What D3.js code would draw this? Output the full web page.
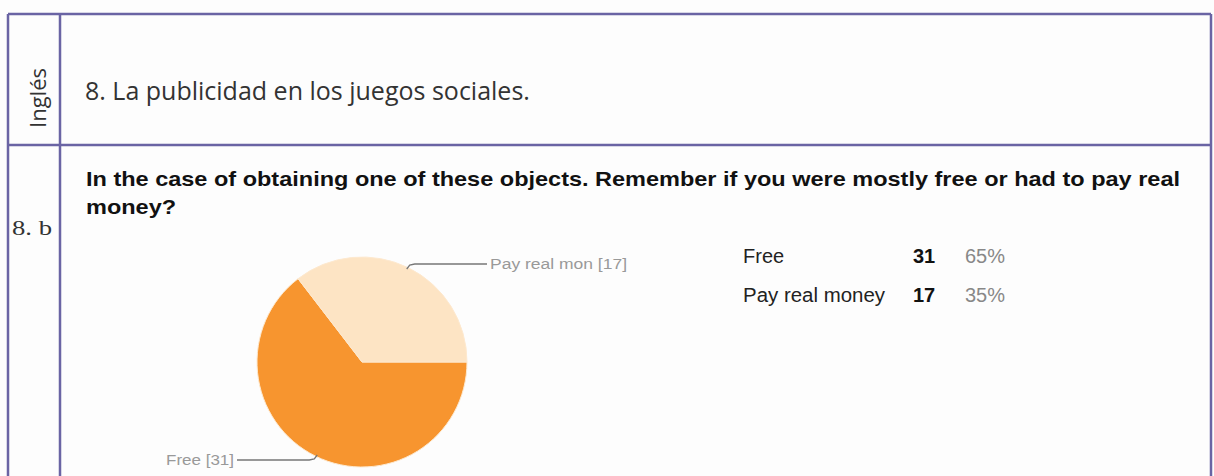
<!DOCTYPE html>
<html><head><meta charset="utf-8">
<script src="https://cdn.jsdelivr.net/npm/d3@7"></script>
<style>html,body{margin:0;padding:0;background:#fff;}svg{display:block;}</style>
</head><body>
<svg id="c" width="1214" height="476"></svg>
<script>
const categories = ["Free", "Pay real money"];
const values = [31, 17];
const percents = ["65%", "35%"];
const sliceLabels = ["Free [31]", "Pay real mon [17]"];
const colors = ["#f7952f", "#fde4c4"];
const sectionLabel = "Inglés";
const sectionTitle = "8. La publicidad en los juegos sociales.";
const itemLabel = "8. b";
const questionLines = ["In the case of obtaining one of these objects. Remember if you were mostly free or had to pay real", "money?"];

const svg = d3.select("#c");
const W = 1214, H = 476;
svg.append("rect").attr("width", W).attr("height", H).attr("fill", "#fdfdfd");

// table borders
const bc = "#6a64a4";
const g = svg.append("g").attr("stroke", bc).attr("stroke-width", 2.5).attr("fill", "none");
g.append("line").attr("x1", 8).attr("x2", 1211).attr("y1", 14).attr("y2", 14);
g.append("line").attr("x1", 8).attr("x2", 1211).attr("y1", 145).attr("y2", 145);
g.append("line").attr("x1", 8).attr("x2", 8).attr("y1", 14).attr("y2", H);
g.append("line").attr("x1", 60).attr("x2", 60).attr("y1", 14).attr("y2", H);
g.append("line").attr("x1", 1211).attr("x2", 1211).attr("y1", 14).attr("y2", H);

svg.append("text").attr("transform", "translate(46,98) rotate(-90)")
  .attr("text-anchor", "middle").attr("font-family", "Open Sans, sans-serif")
  .attr("font-size", 21).attr("fill", "#333").attr("textLength", 60).attr("lengthAdjust", "spacingAndGlyphs").text(sectionLabel);
svg.append("text").attr("x", 85).attr("y", 100).attr("font-family", "Open Sans, sans-serif")
  .attr("font-size", 25).attr("fill", "#333").text(sectionTitle);
svg.append("text").attr("x", 12).attr("y", 235).attr("font-family", "Liberation Serif, serif")
  .attr("font-size", 21).attr("fill", "#333").attr("textLength", 40).attr("lengthAdjust", "spacingAndGlyphs").text(itemLabel);

// question text, compressed to the reference width
const qts = questionLines.map((t, i) => svg.append("text").attr("x", 86).attr("y", 186 + i * 28)
    .attr("font-family", "Liberation Sans, Arial, sans-serif").attr("font-weight", "bold")
    .attr("font-size", 21).attr("fill", "#111").text(t));
const ratio = 1094 / qts[0].node().getComputedTextLength();
qts.forEach(t => t.attr("textLength", t.node().getComputedTextLength() * ratio).attr("lengthAdjust", "spacingAndGlyphs"));

// pie
const cx = 362, cy = 362, r = 105;
const pie = d3.pie().sort(null).startAngle(Math.PI / 2).endAngle(Math.PI / 2 + 2 * Math.PI);
const arcs = pie(values);
const arc = d3.arc().innerRadius(0).outerRadius(r);
const pg = svg.append("g").attr("transform", `translate(${cx},${cy})`);
pg.selectAll("path").data(arcs).join("path")
  .attr("d", arc).attr("fill", (d, i) => colors[i]).attr("stroke", "#fde9cf").attr("stroke-width", 1);

// leader lines + labels
const lab = svg.append("g").attr("font-family", "Liberation Sans, Arial, sans-serif").attr("font-size", 14).attr("fill", "#999");
{
  const ang = 0.44;
  const px = cx + r * Math.sin(ang), py = cy - r * Math.cos(ang);
  lab.append("path").attr("d", `M${px},${py + 2} L${px + 3},${py - 2} L${px + 8},${py - 3} L${487},${py - 3}`)
    .attr("fill", "none").attr("stroke", "#777").attr("stroke-width", 1.3);
  lab.append("text").attr("x", 490).attr("y", py + 2).attr("textLength", 137).attr("lengthAdjust", "spacingAndGlyphs").text(sliceLabels[1]);
}
{
  const ang = Math.PI + 0.44;
  const px = cx + r * Math.sin(ang), py = cy - r * Math.cos(ang);
  lab.append("path").attr("d", `M${px},${py - 2} L${px - 3},${py + 2} L${px - 8},${py + 3} L${237},${py + 3}`)
    .attr("fill", "none").attr("stroke", "#777").attr("stroke-width", 1.3);
  lab.append("text").attr("x", 234).attr("y", py + 8).attr("text-anchor", "end")
    .attr("textLength", 68).attr("lengthAdjust", "spacingAndGlyphs").text(sliceLabels[0]);
}

// legend table
const lg = svg.append("g").attr("font-family", "Liberation Sans, Arial, sans-serif").attr("font-size", 20);
categories.forEach((c, i) => {
  const y = 263 + i * 39;
  const t = lg.append("text").attr("x", 743).attr("y", y).attr("fill", "#222").text(c);
  if (i === 1) t.attr("textLength", 142).attr("lengthAdjust", "spacingAndGlyphs");
  lg.append("text").attr("x", 913).attr("y", y).attr("fill", "#111").attr("font-weight", "bold").text(values[i]);
  lg.append("text").attr("x", 965).attr("y", y).attr("fill", "#888").text(percents[i]);
});
</script>
</body></html>
